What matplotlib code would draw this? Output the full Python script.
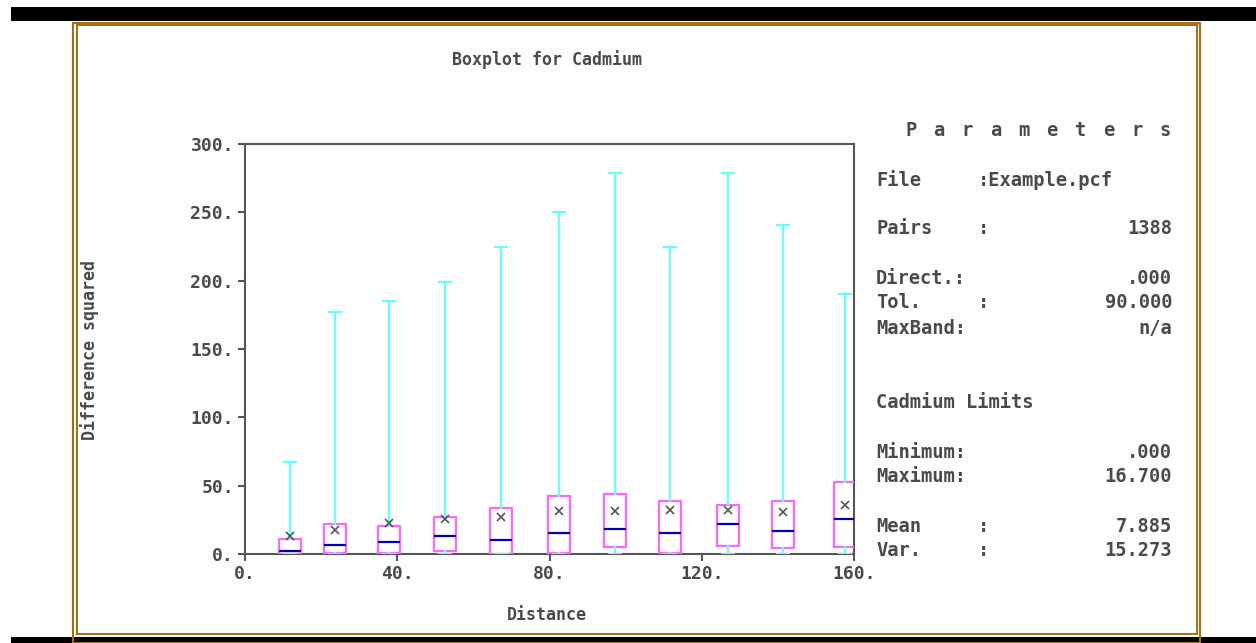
import numpy as np
import matplotlib.pyplot as plt
from matplotlib.patches import Rectangle

# lag-class boxplot values
distance = [11.8, 23.6, 37.8, 52.5, 67.3, 82.5, 97.2, 111.7, 126.9, 141.4, 157.6]
q1 = [0.0, 1.0, 0.7, 2.0, 0.0, 1.0, 4.9, 1.0, 5.9, 4.6, 4.9]
median = [2.2, 6.4, 8.8, 12.9, 10.2, 15.1, 18.0, 15.1, 21.7, 16.6, 25.6]
q3 = [10.7, 22.0, 20.5, 27.3, 33.6, 42.4, 43.9, 38.8, 35.8, 39.0, 52.9]
mean = [13.4, 17.6, 22.9, 25.4, 26.8, 31.7, 31.2, 32.2, 32.2, 30.5, 35.6]
wmin = [0, 0, 0, 0, 0, 0, 0, 0, 0, 0, 0]
wmax = [67, 177, 185, 199, 225, 250, 279, 225, 279, 241, 190]

yticks = [0, 50, 100, 150, 200, 250, 300]
xticks = [0, 40, 80, 120, 160]

# (label, separate colon, value)
params = [("File", ":Example.pcf", ""),
          ("Pairs", ":", "1388"),
          ("Direct.:", "", ".000"),
          ("Tol.", ":", "90.000"),
          ("MaxBand:", "", "n/a"),
          ("Minimum:", "", ".000"),
          ("Maximum:", "", "16.700"),
          ("Mean", ":", "7.885"),
          ("Var.", ":", "15.273")]
param_rows = [180, 229, 278, 303, 328, 452, 477, 527, 551]

GRAY = "#555555"
TXT = "#4a4a4a"
BROWN = "#a07010"
FONT = "DejaVu Sans Mono"

W, H = 1256, 643
fig = plt.figure(figsize=(W / 100, H / 100), dpi=100)

# pixel overlay for frame and free text
bg = fig.add_axes([0, 0, 1, 1], zorder=0)
bg.set_xlim(0, W)
bg.set_ylim(H, 0)
bg.axis("off")
bg.add_patch(Rectangle((11, 7), W - 11, 14, color="black", lw=0))
bg.add_patch(Rectangle((11, 637), W - 11, 6, color="black", lw=0))
bg.add_patch(Rectangle((73, 22.5), 1127, 620, fill=False, ec=BROWN, lw=1.5))
bg.add_patch(Rectangle((76.5, 25), 1120, 609, fill=False, ec=BROWN, lw=1.4))

bg.text(547, 60, "Boxplot for Cadmium", ha="center", va="center",
        family=FONT, weight="bold", fontsize=12, color=TXT)
bg.text(547, 615, "Distance", ha="center", va="center",
        family=FONT, weight="bold", fontsize=12, color=TXT)
bg.text(90, 350, "Difference squared", ha="center", va="center", rotation=90,
        family=FONT, weight="bold", fontsize=12, color=TXT)

# parameters panel
for i, ch in enumerate("Parameters"):
    bg.text(911 + i * 28.2, 130, ch, ha="center", va="center",
            family=FONT, weight="bold", fontsize=13.5, color=TXT)
for (lab, colon, val), y in zip(params, param_rows):
    bg.text(876, y, lab, ha="left", va="center", family=FONT, weight="bold",
            fontsize=13.5, color=TXT)
    bg.text(978, y, colon, ha="left", va="center", family=FONT, weight="bold",
            fontsize=13.5, color=TXT)
    bg.text(1172, y, val, ha="right", va="center", family=FONT, weight="bold",
            fontsize=13.5, color=TXT)
bg.text(876, 403, "Cadmium Limits", ha="left", va="center", family=FONT,
        weight="bold", fontsize=13.5, color=TXT)

# main plot
ax = fig.add_axes([245 / W, 1 - 554 / H, 609 / W, 410 / H], zorder=1)
ax.patch.set_alpha(0)

stats = []
for i in range(len(distance)):
    stats.append(dict(med=median[i], q1=q1[i], q3=q3[i], mean=mean[i],
                      whislo=wmin[i], whishi=wmax[i], fliers=[]))

ax.bxp(stats, positions=distance, widths=5.8, capwidths=3.2, showmeans=True,
       manage_ticks=False, zorder=3,
       boxprops=dict(color="#ff66ff", lw=1.6),
       whiskerprops=dict(color="#66ffff", lw=1.6),
       capprops=dict(color="#66ffff", lw=1.6),
       medianprops=dict(color="#0000aa", lw=1.6),
       meanprops=dict(marker="x", markeredgecolor=GRAY, markersize=6,
                      markeredgewidth=1.2))

ax.set_xlim(0, 160)
ax.set_ylim(0, 300)
ax.set_xticks(xticks)
ax.set_xticklabels([f"{v}." for v in xticks])
ax.set_yticks(yticks)
ax.set_yticklabels([f"{v}." for v in yticks])
for s in ax.spines.values():
    s.set_color(GRAY)
    s.set_linewidth(1.5)
ax.tick_params(direction="out", length=5, width=1.5, color=GRAY, pad=3,
               labelcolor=TXT, labelsize=13)
for lbl in ax.get_xticklabels() + ax.get_yticklabels():
    lbl.set_family(FONT)
    lbl.set_weight("bold")

fig.savefig("out.png", dpi=100)
